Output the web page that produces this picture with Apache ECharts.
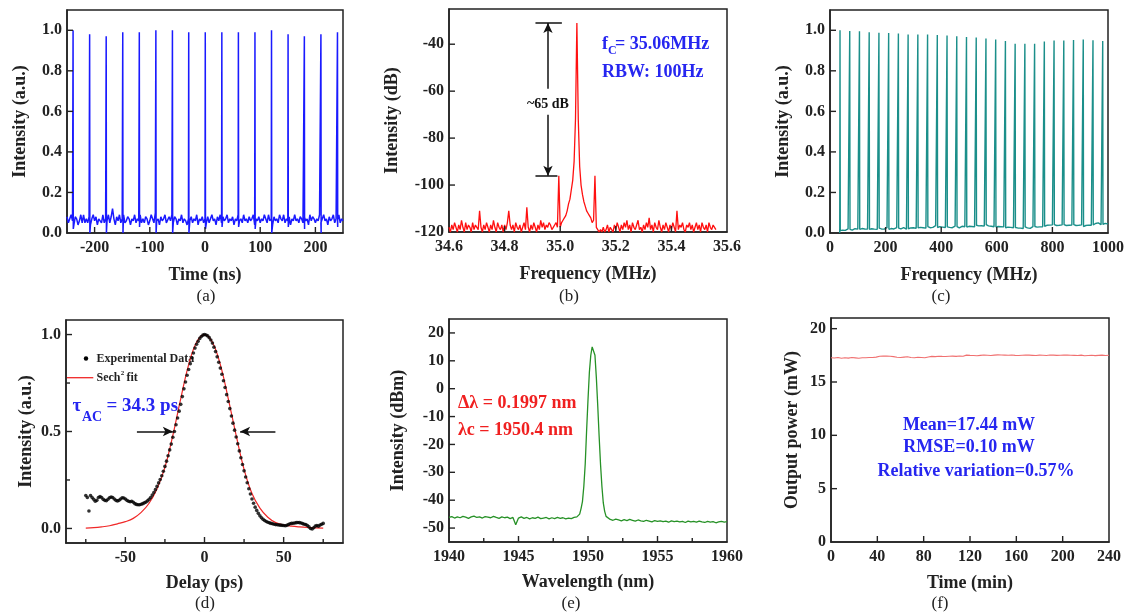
<!DOCTYPE html>
<html><head><meta charset="utf-8">
<script src="https://cdn.jsdelivr.net/npm/echarts@6/dist/echarts.min.js"></script>
<style>html,body{margin:0;padding:0;background:#fff;}#c{width:1128px;height:614px;}</style>
</head><body><div id="c"></div>
<script>
// ---------------- DATA ----------------
// (a) pulse train in time domain
const aStart = -250, aStep = 2.5;
const aBase = [0.08,0.05,0.07,0.09,0.06,0.04,0.08,0.07,0.04,0.06,
0.09,0.05,0.09,0.05,0.07,0.05,0.08,0.04,0.07,0.09,
0.06,0.08,0.04,0.07,0.07,0.05,0.09,0.05,0.07,0.06,
0.09,0.05,0.08,0.12,0.07,0.04,0.08,0.06,0.09,0.05,
0.07,0.09,0.05,0.06,0.08,0.07,0.04,0.07,0.06,0.09,
0.05,0.07,0.06,0.09,0.05,0.07,0.05,0.08,0.07,0.04,
0.06,0.09,0.07,0.05,0.10,0.06,0.07,0.04,0.08,0.06,
0.07,0.09,0.05,0.05,0.08,0.06,0.09,0.05,0.08,0.07,
0.04,0.07,0.06,0.09,0.05,0.07,0.06,0.04,0.07,0.06,
0.08,0.05,0.07,0.06,0.09,0.04,0.07,0.06,0.08,0.05,
0.07,0.05,0.08,0.05,0.07,0.09,0.06,0.07,0.04,0.08,
0.06,0.09,0.05,0.08,0.06,0.07,0.09,0.05,0.07,0.06,
0.08,0.04,0.07,0.06,0.09,0.06,0.07,0.05,0.09,0.06,
0.07,0.05,0.08,0.06,0.07,0.09,0.04,0.07,0.06,0.08,
0.05,0.07,0.06,0.09,0.07,0.05,0.09,0.06,0.07,0.04,
0.08,0.06,0.07,0.05,0.09,0.07,0.06,0.09,0.05,0.07,
0.06,0.08,0.04,0.07,0.06,0.09,0.06,0.07,0.05,0.08,
0.07,0.05,0.08,0.06,0.07,0.04,0.09,0.06,0.08,0.07,
0.05,0.07,0.06,0.09,0.05,0.07,0.09,0.06,0.07,0.04,
0.08,0.06,0.07,0.09,0.05,0.07,0.06,0.09,0.05,0.07,
0.06];
const aPulseT = [-239,-209,-179,-149,-119,-89,-59,-29.5,0.5,30.5,60.5,90.5,120.5,150.5,180,210,240];
const aPulseP = [1.0,0.98,0.97,0.99,0.99,1.0,1.0,0.99,0.99,0.99,0.99,0.99,1.0,0.98,0.97,0.98,0.99];
const aDip    = [0.02,0.0,0.0,0.0,0.03,0.0,0.0,0.0,0.02,0.03,0.03,0.02,0.0,0.03,0.02,0.0,0.03];
const aXTicks = [-200,-100,0,100,200];
const aYTicks = [0,0.2,0.4,0.6,0.8,1.0];

// (b) RF spectrum
const bStart = 34.6, bStep = 0.005;
const bVals = [-118,-120,-117,-119,-116,-118,-120,-117,-119,-115,-118,-120,-116,-119,-117,-118,-120,-116,-119,-117,
-118,-119,-111,-118,-120,-117,-119,-116,-118,-120,-117,-119,-115,-118,-120,-116,-118,-119,-117,-120,
-117,-119,-116,-111,-117,-119,-117,-120,-116,-118,-119,-117,-120,-118,-116,-119,-109.5,-118,-120,-117,
-119,-116,-118,-120,-117,-119,-115,-118,-116,-119,-117,-118,-116,-117,-119,-118,-117,-116,-118,-96,
-118,-116,-115,-114,-113,-111,-108,-106,-102,-98,-90,-72,-31,-72,-92,-100,-104,-107,-109,-111,
-112,-113,-114,-116,-115,-96,-118,-119,-120,-119,-120,-118,-120,-119,-117,-120,-118,-119,-120,-117,
-119,-116,-118,-120,-117,-119,-116,-118,-115,-119,-117,-120,-116,-118,-119,-117,-115,-119,-118,-120,
-117,-119,-116,-118,-114,-119,-117,-120,-116,-118,-119,-115,-118,-120,-117,-119,-116,-118,-120,-117,
-119,-116,-118,-120,-111,-119,-117,-118,-116,-119,-120,-117,-118,-116,-119,-117,-120,-118,-116,-119,
-117,-120,-116,-118,-119,-117,-120,-116,-118,-119,-117,-118,-119];
const bXTicks = [34.6,34.8,35.0,35.2,35.4,35.6];
const bYTicks = [-120,-100,-80,-60,-40];
const bMarkTop = -31, bMarkBottom = -96;

// (c) wide-span RF spectrum
const cStart = 35, cStep = 5;
const cBase = [0.0,0.012,0.014,0.017,0.013,0.016,0.02,0.015,0.018,0.014,
0.017,0.021,0.016,0.019,0.015,0.018,0.022,0.017,0.02,0.016,
0.019,0.023,0.018,0.021,0.025,0.019,0.022,0.018,0.021,0.024,
0.02,0.023,0.019,0.022,0.026,0.021,0.018,0.022,0.025,0.02,
0.023,0.027,0.021,0.024,0.02,0.023,0.026,0.022,0.019,0.024,
0.021,0.025,0.022,0.026,0.03,0.023,0.02,0.025,0.028,0.022,
0.026,0.03,0.024,0.027,0.032,0.026,0.023,0.028,0.031,0.036,
0.03,0.027,0.031,0.025,0.029,0.033,0.027,0.024,0.03,0.028,
0.032,0.026,0.03,0.034,0.027,0.031,0.025,0.029,0.033,0.028,
0.031,0.035,0.029,0.033,0.027,0.032,0.036,0.03,0.034,0.038,
0.035,0.04,0.036,0.039,0.034,0.038,0.041,0.035,0.039,0.033,
0.036,0.031,0.034,0.029,0.032,0.027,0.031,0.026,0.03,0.028,
0.025,0.029,0.024,0.028,0.032,0.026,0.023,0.027,0.025,0.029,
0.024,0.028,0.022,0.026,0.03,0.025,0.028,0.023,0.027,0.031,
0.027,0.032,0.029,0.034,0.03,0.035,0.031,0.036,0.033,0.038,
0.034,0.039,0.035,0.04,0.036,0.041,0.037,0.042,0.038,0.035,
0.04,0.036,0.041,0.037,0.043,0.038,0.034,0.039,0.036,0.041,
0.037,0.033,0.038,0.035,0.04,0.036,0.032,0.037,0.034,0.039,
0.042,0.038,0.045,0.04,0.047,0.043,0.05,0.044,0.041,0.046,
0.042,0.047,0.043,0.045];
const cPulseF = [36,71,106,141,176,211,246,281,316,351,386,421,456,491,526,561,596,631,666,701,736,771,806,841,876,911,946,981];
const cPulseP = [1.0,0.997,0.995,0.99,0.988,0.986,0.984,0.979,0.979,0.979,0.977,0.974,0.97,0.967,0.964,0.96,0.954,0.947,0.934,0.933,0.934,0.944,0.949,0.949,0.952,0.954,0.951,0.947];
const cXTicks = [0,200,400,600,800,1000];
const cYTicks = [0,0.2,0.4,0.6,0.8,1.0];

// (d) autocorrelation trace
const dStart = -75, dStep = 1;
const dExp = [0.17,0.16,0.09,0.17,0.16,0.15,0.14,0.145,0.16,0.165,
0.16,0.15,0.145,0.143,0.15,0.158,0.162,0.16,0.152,0.145,
0.142,0.145,0.152,0.158,0.157,0.152,0.145,0.14,0.138,0.14,
0.135,0.128,0.124,0.122,0.122,0.125,0.128,0.132,0.136,0.142,
0.15,0.16,0.172,0.185,0.2,0.217,0.235,0.252,0.272,0.295,
0.32,0.347,0.375,0.405,0.435,0.47,0.5,0.535,0.57,0.605,
0.64,0.68,0.72,0.755,0.79,0.82,0.85,0.88,0.905,0.93,
0.95,0.965,0.98,0.99,0.997,1.0,0.998,0.993,0.984,0.972,
0.956,0.935,0.912,0.885,0.857,0.827,0.795,0.762,0.727,0.69,
0.655,0.618,0.58,0.543,0.507,0.472,0.437,0.4,0.365,0.33,
0.297,0.265,0.236,0.205,0.178,0.152,0.13,0.11,0.093,0.078,
0.065,0.055,0.047,0.041,0.036,0.032,0.029,0.026,0.024,0.022,
0.02,0.019,0.018,0.017,0.016,0.015,0.014,0.016,0.02,0.024,
0.026,0.027,0.028,0.03,0.031,0.03,0.028,0.025,0.022,0.02,
0.015,0.008,0.0,-0.003,0.004,0.012,0.015,0.012,0.018,0.022,0.026];
const dFitT = [-75,-70,-65,-60,-55,-50,-45,-40,-35,-30,-25,-20,-15,-10,-5,0,5,10,15,20,25,30,35,40,45,50,55,60,65,70,75];
const dFit  = [0.002,0.004,0.008,0.014,0.024,0.035,0.052,0.083,0.13,0.205,0.315,0.48,0.67,0.845,0.96,1.0,0.96,0.845,0.67,0.48,0.305,0.18,0.105,0.058,0.03,0.018,0.012,0.008,0.005,0.003,0.002];
const dXTicks = [-50,0,50];
const dXMinor = [-75,-25,25,75];
const dYTicks = [0,0.5,1.0];
const dYMinor = [0.25,0.75];

// (e) optical spectrum
const eLeftStart = 1940, eLeftStep = 0.2;
const eLeft = [-46.2,-45.9,-46.4,-46.0,-46.3,-45.8,-46.1,-46.5,-46.0,-45.7,
-46.2,-46.0,-46.4,-45.9,-46.1,-46.3,-45.8,-46.2,-46.5,-46.0,
-46.3,-46.1,-46.6,-46.2,-48.8,-46.4,-46.0,-46.5,-46.2,-46.7,
-46.3,-46.5,-46.1,-46.6,-46.4,-46.2,-46.7,-46.3,-46.6,-46.2,
-46.5,-46.3,-46.7,-46.4,-46.6,-46.2];
const ePeakStart = 1949.2, ePeakStep = 0.1;
const ePeak = [-46,-45.6,-45,-43,-40.5,-35,-27,-15,-4,6,12,15,15.5,12,4,-6,-17,-27,-35,-41,-44,-45.8,-46.5];
const eRightStart = 1951.6, eRightStep = 0.2;
const eRight = [-46.9,-47.2,-46.8,-47.1,-47.4,-47.0,-47.3,-46.9,-47.2,-47.5,
-47.1,-47.4,-47.6,-47.2,-47.5,-47.8,-47.3,-47.6,-47.4,-47.7,
-47.5,-47.9,-47.4,-47.7,-47.5,-47.8,-47.6,-48.0,-47.5,-47.8,
-47.6,-47.9,-47.5,-47.8,-48.0,-47.6,-47.9,-47.7,-48.1,-47.8,
-47.6,-47.9,-47.7];
const eXTicks = [1940,1945,1950,1955,1960];
const eXMinor = [1942.5,1947.5,1952.5,1957.5];
const eYTicks = [-50,-40,-30,-20,-10,0,10,20];

// (f) output power stability
const fStart = 0, fStep = 3;
const fVals = [17.28,17.25,17.30,17.22,17.27,17.24,17.29,17.26,17.23,17.28,
17.27,17.30,17.29,17.33,17.42,17.44,17.43,17.41,17.38,17.32,
17.30,17.33,17.36,17.29,17.28,17.32,17.30,17.28,17.35,17.40,
17.38,17.42,17.40,17.39,17.41,17.43,17.40,17.44,17.42,17.52,
17.50,17.49,17.46,17.50,17.53,17.51,17.48,17.52,17.54,17.53,
17.52,17.51,17.53,17.50,17.49,17.51,17.53,17.52,17.50,17.48,
17.52,17.51,17.49,17.53,17.52,17.50,17.51,17.53,17.52,17.51,
17.50,17.48,17.52,17.46,17.49,17.51,17.47,17.50,17.52,17.49,
17.51];
const fXTicks = [0,40,80,120,160,200,240];
const fYTicks = [0,5,10,15,20];

// ---------------- BUILD ----------------
const FONT = "'Liberation Serif','Times New Roman',serif";
const AXC = '#222';

function seq(start, step, vals) { return vals.map((v, i) => [+(start + i * step).toFixed(4), v]); }

const aData = [];
for (let i = 0; i < aBase.length; i++) {
  const t = aStart + i * aStep;
  aData.push([t, aBase[i]]);
  aPulseT.forEach((tp, k) => {
    if (tp > t && tp <= t + aStep) {
      aData.push([tp, aBase[i]], [tp, aPulseP[k]], [tp + 0.4, aDip[k]]);
    }
  });
}
const cData = [];
for (let i = 0; i < cBase.length; i++) {
  const f = cStart + i * cStep;
  cData.push([f, cBase[i]]);
  cPulseF.forEach((fp, k) => {
    if (fp > f && fp <= f + cStep) {
      cData.push([fp, i === 0 ? 0 : cBase[i]], [fp, cPulseP[k]], [fp + 1, cBase[Math.min(i + 1, cBase.length - 1)]]);
    }
  });
}
const bData = seq(bStart, bStep, bVals);
const dExpData = seq(dStart, dStep, dExp);
const dFitData = dFitT.map((t, i) => [t, dFit[i]]);
const eData = seq(eLeftStart, eLeftStep, eLeft).concat(seq(ePeakStart, ePeakStep, ePeak), seq(eRightStart, eRightStep, eRight));
const fData = seq(fStart, fStep, fVals);

// layout
const gridBoxes = [
  {left: 67, top: 10, width: 276, height: 223},
  {left: 449, top: 9, width: 278, height: 223},
  {left: 830, top: 10, width: 278, height: 223},
  {left: 66, top: 320, width: 277, height: 223},
  {left: 449, top: 319, width: 278, height: 223},
  {left: 831, top: 318, width: 278, height: 224}
];
const grids = gridBoxes.map(g => Object.assign({show: true, borderColor: AXC, borderWidth: 1.5, backgroundColor: 'transparent'}, g));

function axis(dim, gi, min, max, labels, fmt, name, gap) {
  return {
    type: 'value', gridIndex: gi, min: min, max: max,
    position: dim === 'x' ? 'bottom' : 'left',
    name: name, nameLocation: 'middle', nameGap: gap,
    nameTextStyle: {fontFamily: FONT, fontWeight: 'bold', fontSize: 18, color: AXC},
    axisLine: {show: true, onZero: false, lineStyle: {color: AXC, width: 1.5}},
    splitLine: {show: false},
    axisTick: {show: false},
    axisLabel: {show: true, customValues: labels, formatter: fmt, margin: dim === 'x' ? 7 : 5,
      fontFamily: FONT, fontWeight: 'bold', fontSize: 16, color: AXC},
  };
}
const f1 = v => v.toFixed(1);
const f0 = v => String(Math.round(v));

const xAxes = [
  axis('x', 0, -250, 250, aXTicks, f0, 'Time (ns)', 33),
  axis('x', 1, 34.6, 35.6, bXTicks, f1, 'Frequency (MHz)', 33),
  axis('x', 2, 0, 1000, cXTicks, f0, 'Frequency (MHz)', 33),
  axis('x', 3, -87.5, 87.5, dXTicks, f0, 'Delay (ps)', 31),
  axis('x', 4, 1940, 1960, eXTicks, f0, 'Wavelength (nm)', 31),
  axis('x', 5, 0, 240, fXTicks, f0, 'Time (min)', 32)
];
const yAxes = [
  axis('y', 0, 0, 1.1, aYTicks, f1, 'Intensity (a.u.)', 38),
  axis('y', 1, -120, -25, bYTicks, f0, 'Intensity (dB)', 48),
  axis('y', 2, 0, 1.1, cYTicks, f1, 'Intensity (a.u.)', 38),
  axis('y', 3, -0.075, 1.075, dYTicks, f1, 'Intensity (a.u.)', 31),
  axis('y', 4, -55, 25, eYTicks, f0, 'Intensity (dBm)', 42),
  axis('y', 5, 0, 21, fYTicks, f0, 'Output power (mW)', 30)
];

// tick sets per panel: [xMajor, xMinor, yMajor, yMinor]
const tickSets = [
  [aXTicks, [], aYTicks, []],
  [bXTicks, [], bYTicks, []],
  [cXTicks, [], cYTicks, []],
  [dXTicks, dXMinor, dYTicks, dYMinor],
  [eXTicks, eXMinor, eYTicks, []],
  [fXTicks, [], fYTicks, []]
];

const line = (xi, yi, data, color, width, extra) => Object.assign({
  type: 'line', xAxisIndex: xi, yAxisIndex: yi, data: data, showSymbol: false, symbol: 'none',
  lineStyle: {color: color, width: width}, animation: false, silent: true
}, extra || {});

const arrowStyle = {color: '#111', width: 1.5, type: 'solid'};
const series = [
  line(0, 0, aData, '#1a1aff', 1.5),
  line(1, 1, bData, '#ff1010', 1.3, {
    markLine: {silent: true, symbol: 'none', animation: false, label: {show: false}, lineStyle: arrowStyle,
      data: [
        [{coord: [34.911, bMarkTop]}, {coord: [35.006, bMarkTop]}],
        [{coord: [34.911, bMarkBottom]}, {coord: [34.99, bMarkBottom]}]
      ]}
  }),
  line(1, 1, [[34.956, -65]], '#000', 0, {
    markLine: {silent: true, symbol: ['none', 'arrow'], symbolSize: [7, 10], animation: false, label: {show: false}, lineStyle: arrowStyle,
      data: [
        [{coord: [34.956, -59]}, {coord: [34.956, bMarkTop]}],
        [{coord: [34.956, -70]}, {coord: [34.956, bMarkBottom]}]
      ]}
  }),
  line(2, 2, cData, '#1b8f8a', 1.4),
  line(3, 3, dFitData, '#f02828', 1.2, {smooth: 0.4, z: 3}),
  {type: 'scatter', xAxisIndex: 3, yAxisIndex: 3, data: dExpData, symbolSize: 3.6, itemStyle: {color: '#000'}, animation: false, silent: true, z: 4,
    markLine: {silent: true, symbol: ['none', 'arrow'], symbolSize: [7, 10], animation: false, label: {show: false}, lineStyle: arrowStyle,
      data: [
        [{coord: [-42.7, 0.5]}, {coord: [-20, 0.5]}],
        [{coord: [44.8, 0.5]}, {coord: [22.5, 0.5]}]
      ]}
  },
  line(4, 4, eData, '#269126', 1.3),
  line(5, 5, fData, '#f07070', 1.1)
];

const T = (text, x, y, size, color, opts) => ({
  type: 'text', x: x, y: y, silent: true,
  style: Object.assign({text: text, font: 'bold ' + size + 'px ' + FONT, fill: color, align: 'left', verticalAlign: 'middle'}, opts || {})
});
const N = (text, x, y) => ({type: 'text', x: x, y: y, silent: true,
  style: {text: text, font: '17px ' + FONT, fill: '#222', align: 'center', verticalAlign: 'middle'}});
const BLUE = '#2626f0', RED = '#f02020';
const graphic = [
  N('(a)', 206, 297), N('(b)', 569, 297), N('(c)', 941, 297),
  N('(d)', 205, 604), N('(e)', 571, 604), N('(f)', 940, 604),
  // (b)
  T('f', 602, 44, 18, BLUE), T('C', 608, 51, 12, BLUE), T('= 35.06MHz', 615, 44, 18, BLUE),
  T('RBW: 100Hz', 602, 72, 18, BLUE),
  T('~65 dB', 548, 104, 14, '#111', {align: 'center'}),
  // (d)
  {type: 'circle', shape: {cx: 86, cy: 358.5, r: 2.2}, style: {fill: '#000'}, silent: true},
  T('Experimental Data', 96.5, 358.5, 12, '#222'),
  {type: 'line', shape: {x1: 66.5, y1: 377.7, x2: 93.3, y2: 377.7}, style: {stroke: '#f02828', lineWidth: 1.3}, silent: true},
  T('Sech', 96.5, 378, 12, '#222'), T('2', 120.8, 373, 7, '#222'), T('fit', 126.5, 378, 12, '#222'),
  T('\u03c4', 72.5, 406, 19, BLUE), T('AC', 82, 417, 14, BLUE), T('= 34.3 ps', 106.5, 406, 19, BLUE),
  // (e)
  T('\u0394\u03bb = 0.1997 nm', 458, 403, 18, RED),
  T('\u03bbc = 1950.4 nm', 458, 430, 18, RED),
  // (f)
  T('Mean=17.44 mW', 969, 425, 18, BLUE, {align: 'center'}),
  T('RMSE=0.10 mW', 969, 447, 18, BLUE, {align: 'center'}),
  T('Relative variation=0.57%', 976, 471, 18, BLUE, {align: 'center'})
];

const chart = echarts.init(document.getElementById('c'), null, {renderer: 'canvas'});
chart.setOption({
  animation: false,
  backgroundColor: '#fff',
  grid: grids,
  xAxis: xAxes,
  yAxis: yAxes,
  series: series,
  graphic: {elements: graphic}
});

// inward tick marks placed through the axes' own scales
const tickEls = [];
const tickLine = (x1, y1, x2, y2) => ({type: 'line', silent: true, z: 100,
  shape: {x1: x1, y1: y1, x2: x2, y2: y2}, style: {stroke: AXC, lineWidth: 1.4}});
tickSets.forEach((set, gi) => {
  const g = gridBoxes[gi];
  const bottom = g.top + g.height, left = g.left;
  [[set[0], 6], [set[1], 4]].forEach(([vals, len]) => vals.forEach(v => {
    const px = chart.convertToPixel({xAxisIndex: gi}, v);
    if (px > left + 1 && px < left + g.width - 1) tickEls.push(tickLine(px, bottom, px, bottom - len));
  }));
  [[set[2], 6], [set[3], 4]].forEach(([vals, len]) => vals.forEach(v => {
    const py = chart.convertToPixel({yAxisIndex: gi}, v);
    if (py > g.top + 1 && py < bottom - 1) tickEls.push(tickLine(left, py, left + len, py));
  }));
});
chart.setOption({graphic: {elements: graphic.concat(tickEls)}});
</script></body></html>
